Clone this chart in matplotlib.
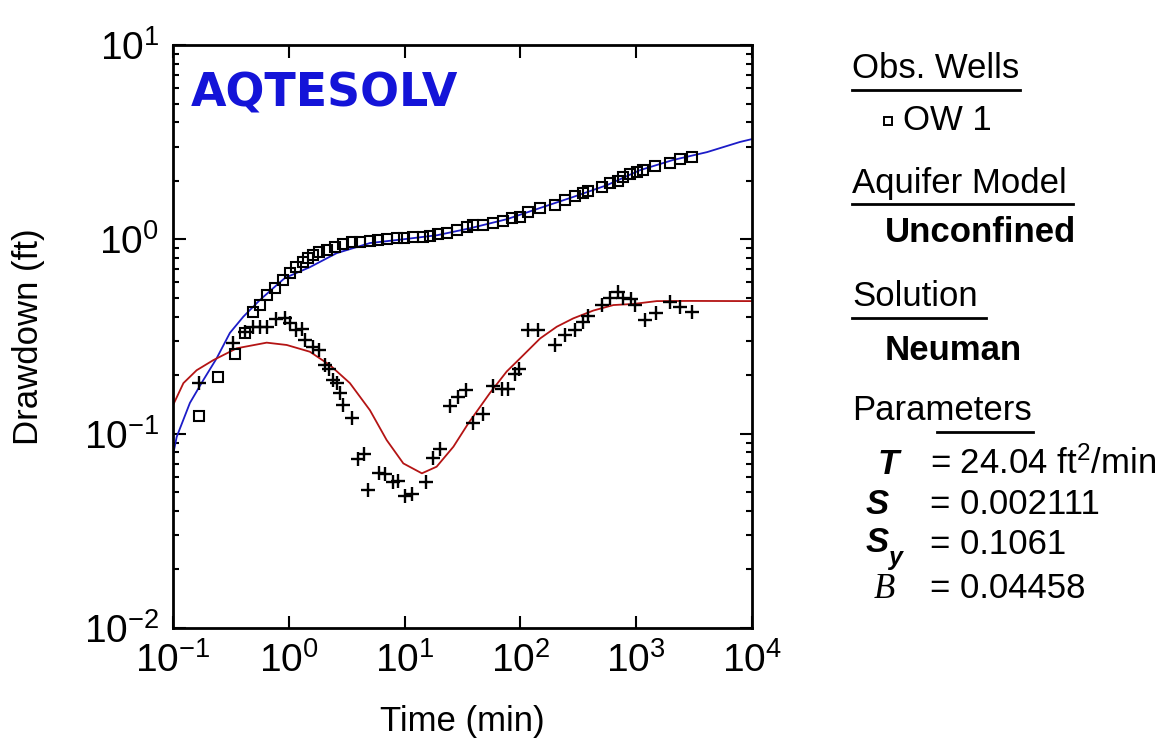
import matplotlib
matplotlib.use('Agg')
import matplotlib.pyplot as plt
from matplotlib.lines import Line2D
from matplotlib.ticker import NullFormatter

plt.rcParams['font.family'] = ['Liberation Sans', 'DejaVu Sans']
plt.rcParams['mathtext.fontset'] = 'custom'
plt.rcParams['mathtext.rm'] = 'Liberation Sans'
plt.rcParams['mathtext.it'] = 'Liberation Sans:italic'
plt.rcParams['mathtext.bf'] = 'Liberation Sans:bold'

# observed drawdown, OW 1
obs_time = [0.169, 0.246, 0.340, 0.419, 0.491, 0.564, 0.649, 0.760, 0.891, 1.02,
            1.15, 1.33, 1.47, 1.62, 1.82, 2.14, 2.51, 2.94, 3.52, 4.12,
            5.02, 5.89, 7.05, 8.59, 9.88, 11.8, 14.4, 16.6, 19.4, 23.2,
            28.4, 34.6, 39.0, 47.6, 58.0, 70.8, 84.6, 99.2, 116, 148,
            199, 243, 296, 347, 384, 507, 594, 697, 769, 884,
            1016, 1145, 1454, 1958, 2389, 3033]
obs_drawdown = [0.123, 0.196, 0.258, 0.330, 0.423, 0.459, 0.516, 0.561, 0.618, 0.671,
                0.719, 0.764, 0.802, 0.830, 0.861, 0.881, 0.912, 0.946, 0.968, 0.968,
                0.98, 0.99, 1.00, 1.02, 1.02, 1.03, 1.03, 1.04, 1.06, 1.08,
                1.12, 1.16, 1.19, 1.19, 1.21, 1.24, 1.29, 1.30, 1.38, 1.45,
                1.50, 1.59, 1.67, 1.73, 1.77, 1.86, 1.95, 2.00, 2.09, 2.17,
                2.22, 2.27, 2.38, 2.47, 2.59, 2.65]

# derivative of observed drawdown
der_time = [0.169, 0.332, 0.419, 0.493, 0.564, 0.644, 0.774, 0.927, 1.02, 1.15,
            1.29, 1.38, 1.63, 1.83, 2.05, 2.24, 2.42, 2.59, 2.77, 2.92,
            3.49, 3.98, 4.46, 4.86, 6.05, 6.77, 7.89, 8.83, 10.1, 11.7,
            15.3, 17.7, 20.2, 24.7, 29.1, 33.9, 39.2, 47.2, 58.3, 68.9,
            78.7, 89.8, 97.8, 117, 143, 199, 243, 296, 345, 386,
            503, 594, 700, 774, 897, 977, 1192, 1483, 1958, 2389, 3013]
der_drawdown = [0.182, 0.294, 0.334, 0.355, 0.355, 0.355, 0.388, 0.392, 0.371, 0.341,
                0.344, 0.303, 0.280, 0.269, 0.225, 0.214, 0.189, 0.182, 0.161, 0.140,
                0.121, 0.0738, 0.0785, 0.0516, 0.0630, 0.0619, 0.0565, 0.0570, 0.0478, 0.0489,
                0.0565, 0.0746, 0.0830, 0.139, 0.154, 0.167, 0.114, 0.126, 0.176, 0.169,
                0.169, 0.203, 0.214, 0.341, 0.341, 0.286, 0.322, 0.341, 0.377, 0.403,
                0.459, 0.497, 0.537, 0.497, 0.491, 0.459, 0.385, 0.416, 0.477, 0.446, 0.424]

# Neuman type curve (drawdown)
fit_time = [0.1, 0.1077, 0.140, 0.183, 0.238, 0.310, 0.405, 0.564, 0.787, 0.927,
            1.52, 2.59, 5.02, 9.68, 19.1, 36.7, 76.6, 148, 284, 559,
            1079, 2080, 4085, 7870, 10000]
fit_drawdown = [0.0776, 0.0964, 0.144, 0.189, 0.244, 0.330, 0.400, 0.488, 0.582, 0.633,
                0.719, 0.849, 0.957, 1.00, 1.05, 1.14, 1.27, 1.45, 1.65, 1.90,
                2.27, 2.56, 2.81, 3.17, 3.28]

# Neuman type curve (derivative)
fitd_time = [0.1, 0.123, 0.160, 0.223, 0.355, 0.644, 0.959, 1.52, 2.27, 3.37,
             5.02, 7.00, 9.75, 14.1, 18.9, 26.4, 35.5, 54.6, 76.2, 99.3,
             148, 206, 286, 426, 635, 944, 1503, 2917, 10000]
fitd_drawdown = [0.140, 0.182, 0.212, 0.239, 0.275, 0.294, 0.286, 0.264, 0.225, 0.182,
                 0.132, 0.0927, 0.0703, 0.0625, 0.0676, 0.0857, 0.113, 0.162, 0.209, 0.244,
                 0.309, 0.355, 0.392, 0.430, 0.459, 0.465, 0.481, 0.482, 0.481]

x_ticks = [0.1, 1, 10, 100, 1000, 10000]
y_ticks = [0.01, 0.1, 1, 10]

W, H = 1165, 740
fig = plt.figure(figsize=(W / 100, H / 100), dpi=100)
ax = fig.add_axes([173 / W, 1 - 628 / H, 579 / W, 583 / H])

ax.plot(fit_time, fit_drawdown, color='#1c1cc8', lw=1.3)
ax.plot(fitd_time, fitd_drawdown, color='#b41414', lw=1.3)
ax.plot(obs_time, obs_drawdown, 's', ms=7, mfc='none', mec='black', mew=1.5)
ax.plot(der_time, der_drawdown, '+', ms=10, color='black', mew=1.7)

ax.set_xscale('log')
ax.set_yscale('log')
ax.set_xlim(0.1, 1e4)
ax.set_ylim(0.01, 10)
ax.set_xticks(x_ticks)
ax.set_yticks(y_ticks)

for s in ax.spines.values():
    s.set_linewidth(2)
ax.tick_params(which='both', direction='in', top=True, right=True, width=1.5)
ax.tick_params(which='major', length=9, labelsize=28, pad=10)
ax.tick_params(which='minor', length=4)
ax.xaxis.set_minor_formatter(NullFormatter())
ax.yaxis.set_minor_formatter(NullFormatter())

ax.set_xlabel('Time (min)', fontsize=25, labelpad=18)
ax.set_ylabel('Drawdown (ft)', fontsize=25, labelpad=28)

ax.text(0.03, 0.955, 'AQTESOLV', transform=ax.transAxes, fontsize=33,
        fontweight='heavy', family='DejaVu Sans', color='#1414d8', va='top')


def ftext(x, y, s, **kw):
    fig.text(x / W, 1 - y / H, s, va='center', fontsize=25, **kw)


def uline(x0, x1, y):
    fig.add_artist(Line2D([x0 / W, x1 / W], [1 - y / H, 1 - y / H],
                          color='black', lw=2))


ftext(852, 68, 'Obs. Wells')
uline(852, 1020, 90)
fig.add_artist(Line2D([888 / W], [1 - 121 / H], marker='s', ms=6,
                      mfc='none', mec='black', mew=1.4))
ftext(903, 121, 'OW 1')
ftext(852, 183, 'Aquifer Model')
uline(852, 1073, 204)
ftext(885, 233, 'Unconfined', fontweight='bold')
ftext(852, 297, 'Solution')
uline(852, 986, 318)
ftext(885, 350, 'Neuman', fontweight='bold')
ftext(852, 410, 'Parameters')
uline(937, 1033, 432)

ftext(878, 464, 'T', fontweight='bold', style='italic')
ftext(930, 464, r'= 24.04 ft$^{2}$/min')
ftext(866, 505, 'S', fontweight='bold', style='italic')
ftext(930, 505, '= 0.002111')
ftext(866, 542, 'S', fontweight='bold', style='italic')
fig.text(888 / W, 1 - 558 / H, 'y', va='center', fontsize=18,
         fontweight='bold', style='italic')
ftext(930, 544, '= 0.1061')
ftext(874, 589, 'B', family='Liberation Serif', style='italic')
ftext(930, 589, '= 0.04458')

fig.savefig('out.png', dpi=100)
